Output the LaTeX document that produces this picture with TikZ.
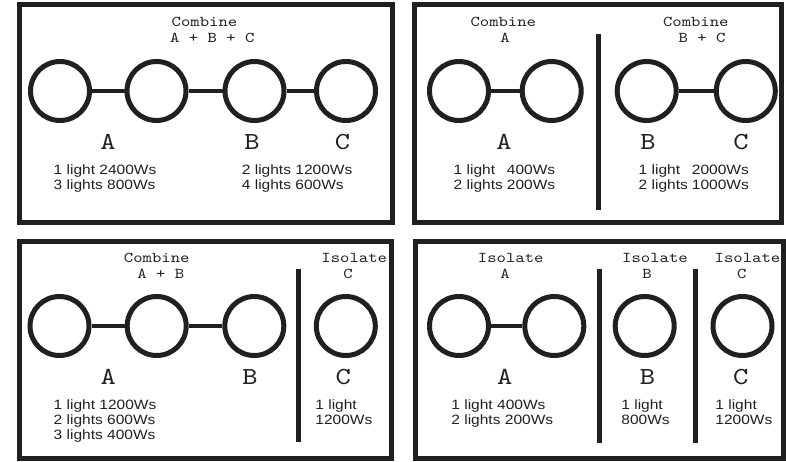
\documentclass[tikz,border=0pt]{standalone}
\usepackage{fontspec}
\newfontfamily\sansf{Liberation Sans}[FakeStretch=1.15]
\newfontfamily\monof{lmmono10-regular.otf}[FakeStretch=1.19]
\definecolor{ink}{RGB}{32,32,32}
\newcommand{\monosm}{\monof\fontsize{15}{15}\selectfont}
\newcommand{\monobig}{\monof\fontsize{24.5}{24.5}\selectfont}
\newcommand{\sanstxt}{\sansf\fontsize{13.5}{15}\selectfont}
\begin{document}
\begin{tikzpicture}[x=1pt,y=-1pt,
  panel/.style={draw=ink,line width=5pt},
  bulb/.style={circle,draw=ink,line width=5pt,minimum size=59pt,inner sep=0pt},
  link/.style={draw=ink,line width=4.8pt},
  divider/.style={draw=ink,line width=5pt},
  ttl/.style={anchor=base,inner sep=0pt,text=ink,font=\monosm},
  big/.style={anchor=base,inner sep=0pt,text=ink,font=\monobig},
  info/.style={anchor=base west,inner sep=0pt,text=ink,font=\sanstxt}]
\useasboundingbox (0,0) rectangle (786,462);
% ---------- panel 1 ----------
\draw[panel] (19,5) rectangle (392,223);
\node[bulb] (p1a) at (60,91) {};
\node[bulb] (p1b) at (156.5,91) {};
\node[bulb] (p1c) at (254.5,91) {};
\node[bulb] (p1d) at (346,91) {};
\draw[link] (p1a) -- (p1b);
\draw[link] (p1b) -- (p1c);
\draw[link] (p1c) -- (p1d);
\node[ttl] (p1t1) at (204.5,27) {Combine};
\node[ttl] (p1t2) at (212.3,42.5) {A + B + C};
\node[big] (p1A) at (108,150) {A};
\node[big] (p1B) at (252,150) {B};
\node[big] (p1C) at (342.5,150) {C};
\node[info] (p1i1) at (53.5,174.5) {\begin{tabular}[t]{@{}l@{}}1 light 2400Ws\\3 lights 800Ws\end{tabular}};
\node[info] (p1i2) at (241.7,174.5) {\begin{tabular}[t]{@{}l@{}}2 lights 1200Ws\\4 lights 600Ws\end{tabular}};
% ---------- panel 2 ----------
\draw[panel] (414,5) rectangle (781,223);
\node[bulb] (p2a) at (459,91) {};
\node[bulb] (p2b) at (551.7,91) {};
\node[bulb] (p2c) at (646.7,91) {};
\node[bulb] (p2d) at (745.8,91) {};
\draw[link] (p2a) -- (p2b);
\draw[link] (p2c) -- (p2d);
\coordinate (p2s1) at (598.3,34.3);
\coordinate (p2s2) at (598.3,210);
\draw[divider] (p2s1) -- (p2s2);
\node[ttl] (p2t1) at (503.3,27) {Combine};
\node[ttl] (p2t2) at (505,42.5) {A};
\node[ttl] (p2t3) at (695.8,27) {Combine};
\node[ttl] (p2t4) at (702,42.5) {B + C};
\node[big] (p2A) at (504,150) {A};
\node[big] (p2B) at (648,150) {B};
\node[big] (p2C) at (741,150) {C};
\node[info] (p2i1) at (453.5,175) {\begin{tabular}[t]{@{}l@{\hspace{0.3em}}l@{}}1 light & 400Ws\\2 lights & 200Ws\end{tabular}};
\node[info] (p2i2) at (638.5,175) {\begin{tabular}[t]{@{}l@{\hspace{0.3em}}l@{}}1 light & 2000Ws\\2 lights & 1000Ws\end{tabular}};
% ---------- panel 3 ----------
\draw[panel] (19,241) rectangle (391.5,458);
\node[bulb] (p3a) at (59.5,326) {};
\node[bulb] (p3b) at (156.7,326) {};
\node[bulb] (p3c) at (254.3,326) {};
\node[bulb] (p3d) at (345.8,326) {};
\draw[link] (p3a) -- (p3b);
\draw[link] (p3b) -- (p3c);
\coordinate (p3s1) at (298.8,269.3);
\coordinate (p3s2) at (298.8,441.7);
\draw[divider] (p3s1) -- (p3s2);
\node[ttl] (p3t1) at (156.7,262) {Combine};
\node[ttl] (p3t2) at (160.8,278) {A + B};
\node[ttl] (p3t3) at (354.2,262) {Isolate};
\node[ttl] (p3t4) at (348,278) {C};
\node[big] (p3A) at (108.3,384) {A};
\node[big] (p3B) at (250,384) {B};
\node[big] (p3C) at (343.3,384) {C};
\node[info] (p3i1) at (53.5,409) {\begin{tabular}[t]{@{}l@{}}1 light 1200Ws\\2 lights 600Ws\\3 lights 400Ws\end{tabular}};
\node[info] (p3i2) at (315.2,409) {\begin{tabular}[t]{@{}l@{}}1 light\\1200Ws\end{tabular}};
% ---------- panel 4 ----------
\draw[panel] (415,241) rectangle (783.5,458);
\node[bulb] (p4a) at (459,326) {};
\node[bulb] (p4b) at (554.3,326) {};
\node[bulb] (p4c) at (644.7,326) {};
\node[bulb] (p4d) at (742.5,326) {};
\draw[link] (p4a) -- (p4b);
\coordinate (p4s1) at (599.2,269.3);
\coordinate (p4s2) at (599.2,443.3);
\coordinate (p4s3) at (695.8,269.3);
\coordinate (p4s4) at (695.8,443.3);
\draw[divider] (p4s1) -- (p4s2);
\draw[divider] (p4s3) -- (p4s4);
\node[ttl] (p4t1) at (510.7,262) {Isolate};
\node[ttl] (p4t2) at (505,278) {A};
\node[ttl] (p4t3) at (655,262) {Isolate};
\node[ttl] (p4t4) at (647,278) {B};
\node[ttl] (p4t5) at (747.5,262) {Isolate};
\node[ttl] (p4t6) at (741.7,278) {C};
\node[big] (p4A) at (504.7,384) {A};
\node[big] (p4B) at (647.5,384) {B};
\node[big] (p4C) at (740.8,384) {C};
\node[info] (p4i1) at (451.2,409) {\begin{tabular}[t]{@{}l@{}}1 light 400Ws\\2 lights 200Ws\end{tabular}};
\node[info] (p4i2) at (621.2,409) {\begin{tabular}[t]{@{}l@{}}1 light\\800Ws\end{tabular}};
\node[info] (p4i3) at (715.2,409) {\begin{tabular}[t]{@{}l@{}}1 light\\1200Ws\end{tabular}};
\end{tikzpicture}
\end{document}
